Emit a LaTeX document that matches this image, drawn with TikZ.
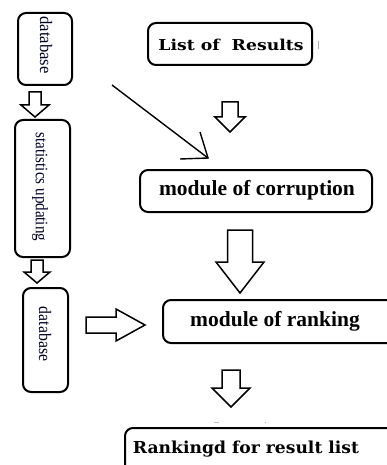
\documentclass[tikz,border=0pt]{standalone}
\usepackage{fontspec}
\setmainfont{Liberation Serif}
\newfontfamily\wideserif{DejaVu Serif}
\begin{document}
\begin{tikzpicture}[x=1pt,y=-1pt,
  box/.style={draw=black, line width=2pt, rounded corners=8pt, inner sep=0pt},
  vtxt/.style={rotate=-90, font=\fontsize{17.5}{17.5}\selectfont, text=black!85!blue},
  mtxt/.style={font=\fontsize{21.5}{21.5}\selectfont\bfseries},
  wtxt/.style={font=\fontsize{15}{15}\selectfont\wideserif\bfseries},
  arr/.style={draw=black, line width=1.5pt, line join=miter, fill=white},
  thin/.style={line width=1.4pt}]
\clip (0,0) rectangle (387,465);
\fill[white] (0,0) rectangle (387,465);
\newcommand\hollowdown[6]{%
  \draw[arr] (#1-#3,#2) -- (#1+#3,#2) -- (#1+#3,#5) -- (#1+#4,#5) -- (#1,#6) -- (#1-#4,#5) -- (#1-#3,#5) -- cycle;}
\newcommand\hollowright[6]{%
  \draw[arr] (#2,#1-#3) -- (#2,#1+#3) -- (#5,#1+#3) -- (#5,#1+#4) -- (#6,#1) -- (#5,#1-#4) -- (#5,#1-#3) -- cycle;}

% left column
\node[box, minimum width=54, minimum height=72] (db1) at (45,49) {};
\node[vtxt] (db1t) at (46,45) {\scalebox{0.95}[1]{database}};
\node[box, minimum width=55, minimum height=137] (st) at (42.5,188.5) {};
\node[vtxt] (stt) at (40,187) {\scalebox{0.86}[1]{statistics updating}};
\node[box, minimum width=45, minimum height=104] (db2) at (45.5,340) {};
\node[vtxt] (db2t) at (45,334) {\scalebox{0.9}[1]{database}};

\hollowdown{35}{92}{6}{14}{105}{117}
\hollowdown{37}{260}{6}{13}{272}{283}
\hollowright{325}{86}{8}{16}{116}{145}

% right column
\node[box, minimum width=164, minimum height=42] (lr) at (230,44) {};
\node[wtxt] (lrt) at (231,45) {\scalebox{1.15}[1]{List of\ \ Results}};
\draw[gray!60, line width=0.8pt] (318,41) -- (318,49);

\hollowdown{230}{102}{8}{15}{117}{132}

\coordinate (d1) at (112,85);
\coordinate (d2) at (208,158);
\coordinate (h1) at (200,132);
\coordinate (h2) at (180,159);
\draw[thin] (d1) -- (d2);
\draw[thin, line join=miter] (h1) -- (d2) -- (h2);

\node[box, minimum width=232, minimum height=42] (mc) at (256,191) {};
\node[mtxt] (mct) at (257,190) {module of corruption};

\hollowdown{240}{230}{12.5}{24}{262}{293}

\node[box, minimum width=240, minimum height=43] (mr) at (283,321.5) {};
\node[mtxt] (mrt) at (275,321) {module of ranking};

\hollowdown{231}{370}{9}{19}{388}{407}

\draw[gray!50, line width=0.8pt] (214,422) -- (219,422);
\draw[gray!60, line width=1pt] (265,422) -- (266,422);

\node[box, minimum width=300, minimum height=60, anchor=north west] (rk) at (124,427) {};
\node[font=\fontsize{16.5}{16.5}\selectfont\wideserif\bfseries] (rkt) at (246,449) {\scalebox{1.04}[1]{Rankingd for result list}};
\end{tikzpicture}
\end{document}
